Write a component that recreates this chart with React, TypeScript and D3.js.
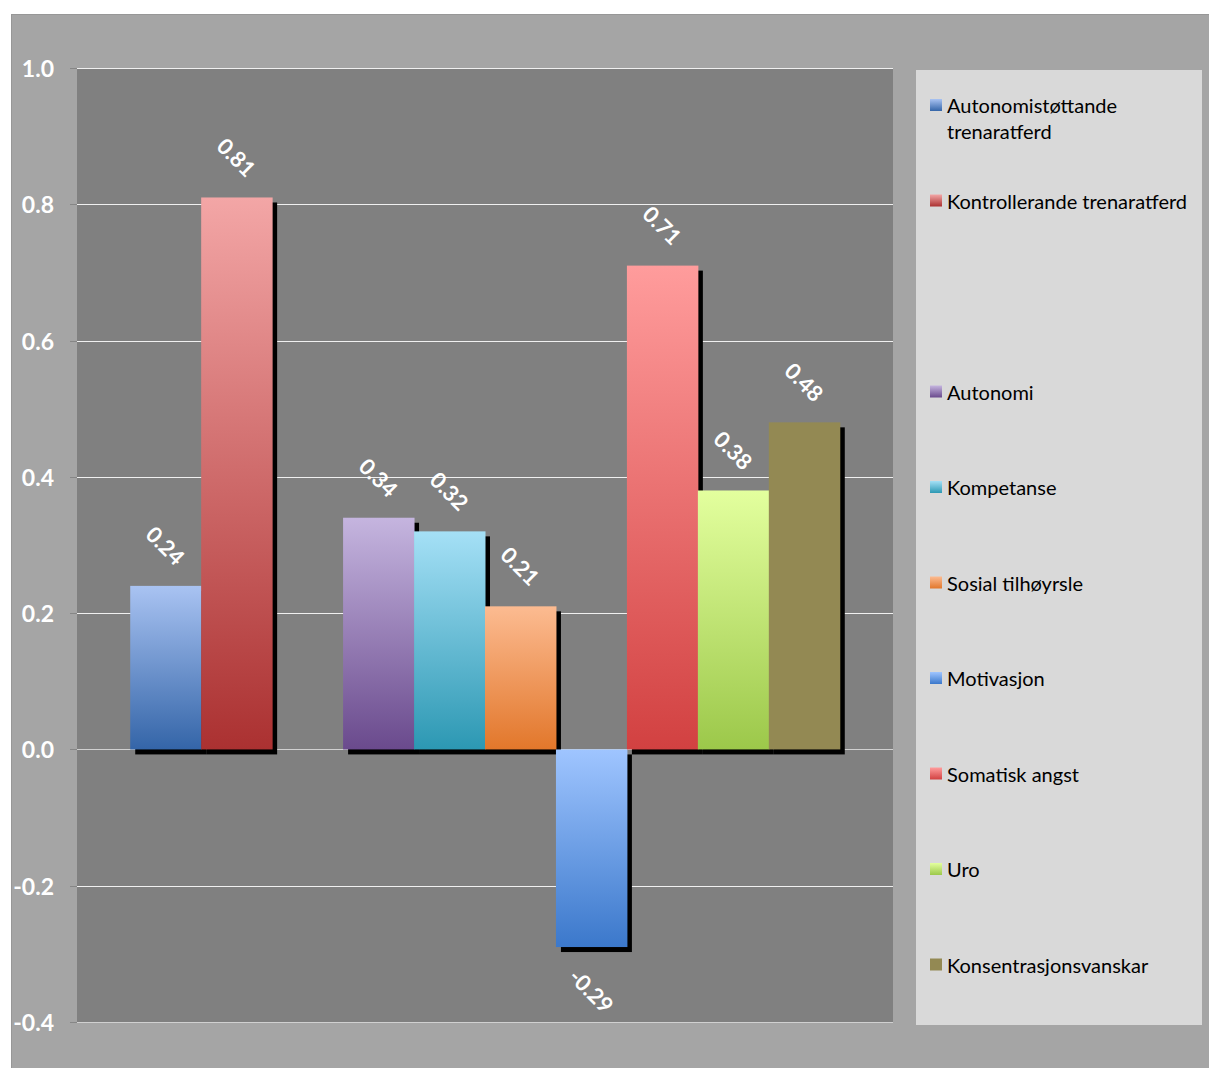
import React, { useEffect, useRef } from "react";
import * as d3 from "d3";

// One category, one bar per series; the empty entry keeps a blank slot in the bar row and legend.
const seriesNames = [
  "Autonomistøttande trenaratferd",
  "Kontrollerande trenaratferd",
  "",
  "Autonomi",
  "Kompetanse",
  "Sosial tilhøyrsle",
  "Motivasjon",
  "Somatisk angst",
  "Uro",
  "Konsentrasjonsvanskar",
];
const seriesValues: (number | null)[] = [0.24, 0.81, null, 0.34, 0.32, 0.21, -0.29, 0.71, 0.38, 0.48];
const yTicks = [-0.4, -0.2, 0.0, 0.2, 0.4, 0.6, 0.8, 1.0];

// Fill gradients: [lighter end, darker end]
const gradientLight = ["#a9c3f2", "#f3a6a6", "#ffffff", "#c5b5df", "#a5e0f6", "#fcbb91", "#9fc5ff", "#ff9c9c", "#e3ff9e", "#938953"];
const gradientDark = ["#3465a8", "#ab3131", "#ffffff", "#6a4a8d", "#2c98b3", "#e2772b", "#3b78cb", "#d24141", "#9cc84a", "#938953"];

const W = 1209;
const H = 1068;

export default function App() {
  const ref = useRef<SVGSVGElement | null>(null);

  useEffect(() => {
    const svg = d3.select(ref.current);
    svg.selectAll("*").remove();
    const font = "Lato, 'Open Sans', sans-serif";

    const plot = { left: 77, right: 893, top: 68, bottom: 1022 };

    const defs = svg.append("defs");
    seriesNames.forEach((_, i) => {
      const g = defs
        .append("linearGradient")
        .attr("id", `grad${i}`)
        .attr("x1", 0)
        .attr("y1", 0)
        .attr("x2", 0)
        .attr("y2", 1);
      g.append("stop").attr("offset", "0%").attr("stop-color", gradientLight[i]);
      g.append("stop").attr("offset", "100%").attr("stop-color", gradientDark[i]);
    });

    // chart area
    svg
      .append("rect")
      .attr("x", 11.5)
      .attr("y", 14.5)
      .attr("width", W)
      .attr("height", H)
      .attr("fill", "#a5a5a5")
      .attr("stroke", "#979797")
      .attr("stroke-width", 1);

    // plot area
    svg
      .append("rect")
      .attr("x", plot.left)
      .attr("y", plot.top)
      .attr("width", plot.right - plot.left)
      .attr("height", plot.bottom - plot.top)
      .attr("fill", "#808080");

    const y = d3.scaleLinear().domain([-0.4, 1.0]).range([plot.bottom, plot.top]);
    const x = d3
      .scaleBand<string>()
      .domain(seriesNames.map((_, i) => String(i)))
      .range([plot.left, plot.right])
      .paddingInner(0)
      .paddingOuter(0.75);

    // gridlines and ticks
    const grid = svg.append("g");
    yTicks.forEach((t) => {
      const yy = Math.round(y(t)) + 0.5;
      grid
        .append("line")
        .attr("x1", plot.left)
        .attr("x2", plot.right)
        .attr("y1", yy)
        .attr("y2", yy)
        .attr("stroke", t === -0.4 || t === 0 ? "#d0d0d0" : "#f0f0f0")
        .attr("stroke-width", 1);
      grid
        .append("line")
        .attr("x1", 70)
        .attr("x2", plot.left)
        .attr("y1", yy)
        .attr("y2", yy)
        .attr("stroke", "#868686");
      grid
        .append("text")
        .attr("x", 54)
        .attr("y", y(t))
        .attr("text-anchor", "end")
        .attr("dominant-baseline", "central")
        .attr("font-family", font)
        .attr("font-weight", 700)
        .attr("font-size", 23)
        .attr("fill", "#ffffff")
        .text(d3.format(".1f")(t).replace("−", "-"));
    });

    const bars = seriesNames
      .map((name, i) => ({ name, i, v: seriesValues[i] }))
      .filter((d) => d.v !== null) as { name: string; i: number; v: number }[];

    const bw = x.bandwidth();
    // shadows behind all bars
    svg
      .append("g")
      .selectAll("rect")
      .data(bars)
      .join("rect")
      .attr("x", (d) => (x(String(d.i)) as number) + 5)
      .attr("y", (d) => Math.min(y(d.v), y(0)) + 5)
      .attr("width", bw)
      .attr("height", (d) => Math.abs(y(d.v) - y(0)))
      .attr("fill", "#000000");

    svg
      .append("g")
      .selectAll("rect")
      .data(bars)
      .join("rect")
      .attr("x", (d) => x(String(d.i)) as number)
      .attr("y", (d) => Math.min(y(d.v), y(0)))
      .attr("width", bw + 0.5)
      .attr("height", (d) => Math.abs(y(d.v) - y(0)))
      .attr("fill", (d) => `url(#grad${d.i})`);

    // value labels, rotated 45°
    const labels = svg.append("g");
    bars.forEach((d) => {
      const cx = (x(String(d.i)) as number) + bw / 2;
      const t = labels
        .append("text")
        .attr("text-anchor", "middle")
        .attr("dominant-baseline", "central")
        .attr("font-family", font)
        .attr("font-weight", 700)
        .attr("font-size", 22)
        .attr("fill", "#ffffff")
        .text(d3.format(".2f")(d.v).replace("−", "-"));
      const len = (t.node() as SVGTextElement).getComputedTextLength();
      const off = 18 + 0.3536 * (len + 20);
      const cy = d.v >= 0 ? y(d.v) - off : y(d.v) + off;
      t.attr("transform", `translate(${cx},${cy}) rotate(45)`);
    });

    // legend
    const lg = { x: 916, y: 70, w: 286, h: 955 };
    svg
      .append("rect")
      .attr("x", lg.x)
      .attr("y", lg.y)
      .attr("width", lg.w)
      .attr("height", lg.h)
      .attr("fill", "#d9d9d9");

    const legendGap = 95.5;
    seriesNames.forEach((name, i) => {
      if (!name) return;
      const cy = 105 + legendGap * i;
      svg
        .append("rect")
        .attr("x", 930)
        .attr("y", cy - 6)
        .attr("width", 12)
        .attr("height", 12)
        .attr("fill", `url(#grad${i})`);
      const txt = svg
        .append("text")
        .attr("x", 947)
        .attr("y", cy)
        .attr("dominant-baseline", "central")
        .attr("font-family", font)
        .attr("font-size", 20)
        .attr("fill", "#000000");
      // wrap long names onto extra lines
      const words = name.split(" ");
      let line: string[] = [];
      let tspan = txt.append("tspan").attr("x", 947).attr("dy", 0);
      words.forEach((w) => {
        line.push(w);
        tspan.text(line.join(" "));
        if ((tspan.node() as SVGTSpanElement).getComputedTextLength() > 250 && line.length > 1) {
          line.pop();
          tspan.text(line.join(" "));
          line = [w];
          tspan = txt.append("tspan").attr("x", 947).attr("dy", 26).text(w);
        }
      });
    });
  }, []);

  return (
    <svg
      ref={ref}
      width={W}
      height={H}
      style={{ position: "absolute", left: 0, top: 0, display: "block", background: "#ffffff" }}
    />
  );
}
